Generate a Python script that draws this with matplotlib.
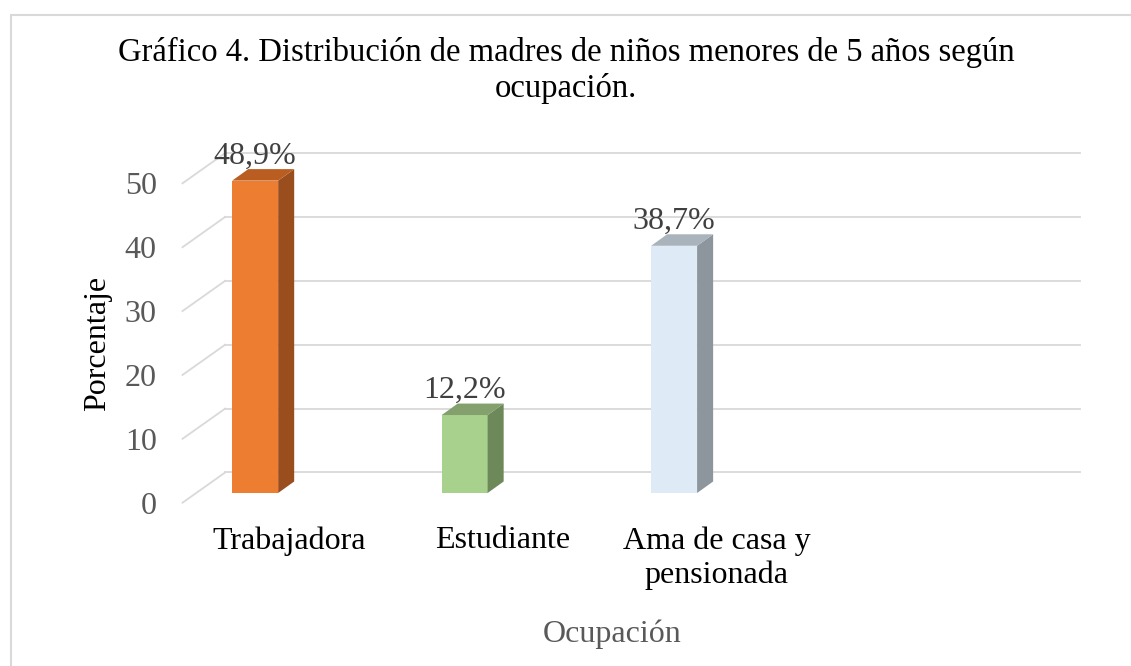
import matplotlib.pyplot as plt
from matplotlib.patches import Polygon, Rectangle

## Data
categories = ['Trabajadora', 'Estudiante', 'Ama de casa y\npensionada']
values = [48.9, 12.2, 38.7]
value_labels = ['48,9%', '12,2%', '38,7%']
yticks = [0, 10, 20, 30, 40, 50]
n_slots = 4  # Excel leaves room for an empty 4th category

front_colors = ['#ED7D31', '#A9D18E', '#DEEBF7']
top_colors = ['#BA5D21', '#83A06D', '#A9B3BC']
side_colors = ['#9A4E1D', '#6D8859', '#8D959D']

title = 'Gráfico 4. Distribución de madres de niños menores de 5 años según\nocupación.'

plt.rcParams['font.family'] = ['Liberation Serif', 'DejaVu Serif']
FS = 23
grid_color = '#D9D9D9'

W, H = 1131, 666
fig = plt.figure(figsize=(W / 100, H / 100), dpi=100)
# axes = front plane of the 3D box
ax = fig.add_axes([182.5 / W, (H - 502.7) / H, 855 / W, 55 * 6.388 / H])
ax.set_xlim(-0.5, n_slots - 0.5)
ax.set_ylim(0, 55)
for s in ax.spines.values():
    s.set_visible(False)

# back wall offset (category units, value units)
DX, DY = 0.2, 4.74
for v in yticks:
    ax.plot([-0.5, -0.5 + DX], [v, v + DY], color=grid_color, lw=1.3, clip_on=False, zorder=1)
    ax.plot([-0.5 + DX, n_slots - 0.5 + DX], [v + DY, v + DY], color=grid_color, lw=1.3,
            clip_on=False, zorder=1)

## Bars (front face + side + top)
base = 1.52
bw = 0.215
bdx, bdy = 0.075, 1.8
pos = [i - 0.16 - 0.02 * i for i in range(len(values))]
ax.bar(pos, values, width=bw, bottom=base, color=front_colors, zorder=3)
for i, v in enumerate(values):
    x0 = pos[i] - bw / 2
    x1 = pos[i] + bw / 2
    top = base + v
    ax.add_patch(Polygon([(x1, base), (x1 + bdx, base + bdy), (x1 + bdx, top + bdy), (x1, top)],
                         closed=True, facecolor=side_colors[i], edgecolor='none', zorder=3, clip_on=False))
    ax.add_patch(Polygon([(x0, top), (x1, top), (x1 + bdx, top + bdy), (x0 + bdx, top + bdy)],
                         closed=True, facecolor=top_colors[i], edgecolor='none', zorder=3, clip_on=False))
    ax.text(pos[i], top + bdy + 0.9, value_labels[i], ha='center', va='baseline',
            fontsize=FS, color='#404040', zorder=4)

## Axes ticks
ax.set_yticks(yticks)
ax.tick_params(axis='y', length=0, pad=18.6, labelsize=FS, labelcolor='#595959')
ax.set_xticks(range(len(categories)))
ax.set_xticklabels(categories)
ax.tick_params(axis='x', length=0, pad=17, labelsize=FS, labelcolor='black')
for lbl in ax.get_xticklabels():
    lbl.set_linespacing(1.2)

fig.text(98 / W, 1 - 343.5 / H, 'Porcentaje', rotation=90, ha='center', va='center', fontsize=FS)
fig.text(612 / W, 1 - 642 / H, 'Ocupación', ha='center', va='baseline', fontsize=FS, color='#595959')
# va='baseline' on multi-line text anchors the last line
fig.text(566 / W, 1 - 97 / H, title, ha='center', va='baseline', fontsize=23.5, linespacing=1.2,
         multialignment='center')

# chart border (only left/top edges visible)
fig.patches.append(Rectangle((10.5 / W, -0.1), 1.2, 1 - 15 / H + 0.1, transform=fig.transFigure,
                             fill=False, edgecolor=grid_color, lw=1.5))

fig.savefig('out.png', dpi=100)
